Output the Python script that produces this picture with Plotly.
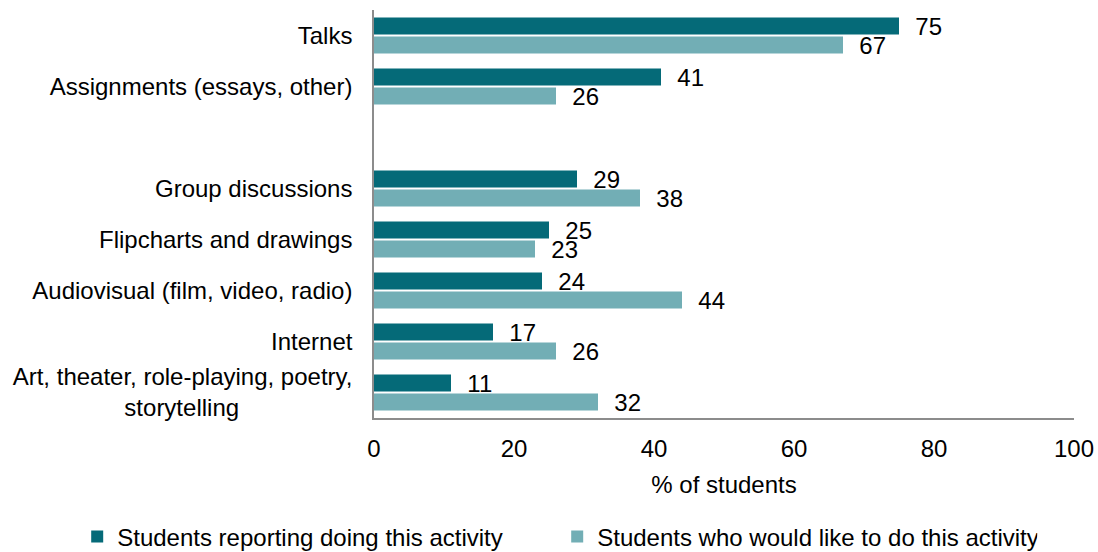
import plotly.graph_objects as go

categories = ["Talks", "Assignments (essays, other)", "gap", "Group discussions",
              "Flipcharts and drawings", "Audiovisual (film, video, radio)",
              "Internet", "Art, theater, role-playing, poetry, storytelling"]
tick_labels = ["Talks", "Assignments (essays, other)", "", "Group discussions",
               "Flipcharts and drawings", "Audiovisual (film, video, radio)",
               "Internet", "Art, theater, role-playing, poetry,<br>storytelling" + "\u00a0" * 17]
doing = [75, 41, None, 29, 25, 24, 17, 11]
would_like = [67, 26, None, 38, 23, 44, 26, 32]
series_names = ["Students reporting doing this activity",
                "Students who would like to do this activity"]
x_ticks = [0, 20, 40, 60, 80, 100]

FONT = "Liberation Sans, Arial, sans-serif"
DARK = "#056A78"
LIGHT = "#72AEB5"

fig = go.Figure()
for name, vals, col in [(series_names[0], doing, DARK), (series_names[1], would_like, LIGHT)]:
    fig.add_trace(go.Bar(
        y=categories, x=vals, name=name, orientation="h",
        marker=dict(color=col, line=dict(width=0)),
        text=[("" if v is None else "\u00a0\u00a0" + str(v)) for v in vals],
        textposition="outside", constraintext="none",
        textfont=dict(color="black", size=24, family=FONT),
        cliponaxis=False,
    ))

fig.update_layout(
    width=1098, height=552,
    margin=dict(l=374, r=24, t=10, b=134, autoexpand=False),
    paper_bgcolor="white", plot_bgcolor="white",
    barmode="group", bargap=0.255, bargroupgap=0.105,
    font=dict(family=FONT, size=24, color="black"),
    showlegend=True,
    legend=dict(orientation="h", xref="paper", yref="paper",
                x=-0.424, xanchor="left", y=-0.2917, yanchor="middle",
                entrywidth=435, entrywidthmode="pixels",
                font=dict(size=24, family=FONT), traceorder="normal"),
    xaxis=dict(range=[0, 100], tickvals=x_ticks, showgrid=False, zeroline=False,
               showline=True, linecolor="#8c8c8c", linewidth=1.5, ticks="",
               ticklabelstandoff=8,
               title=dict(text="% of students", standoff=16, font=dict(size=24))),
    yaxis=dict(categoryorder="array", categoryarray=categories, autorange="reversed",
               tickvals=categories, ticktext=tick_labels,
               showgrid=False, zeroline=False, showline=True, linecolor="#8c8c8c",
               linewidth=1.5, ticks="", ticklabelstandoff=15),
)

fig.write_html("out.html")
